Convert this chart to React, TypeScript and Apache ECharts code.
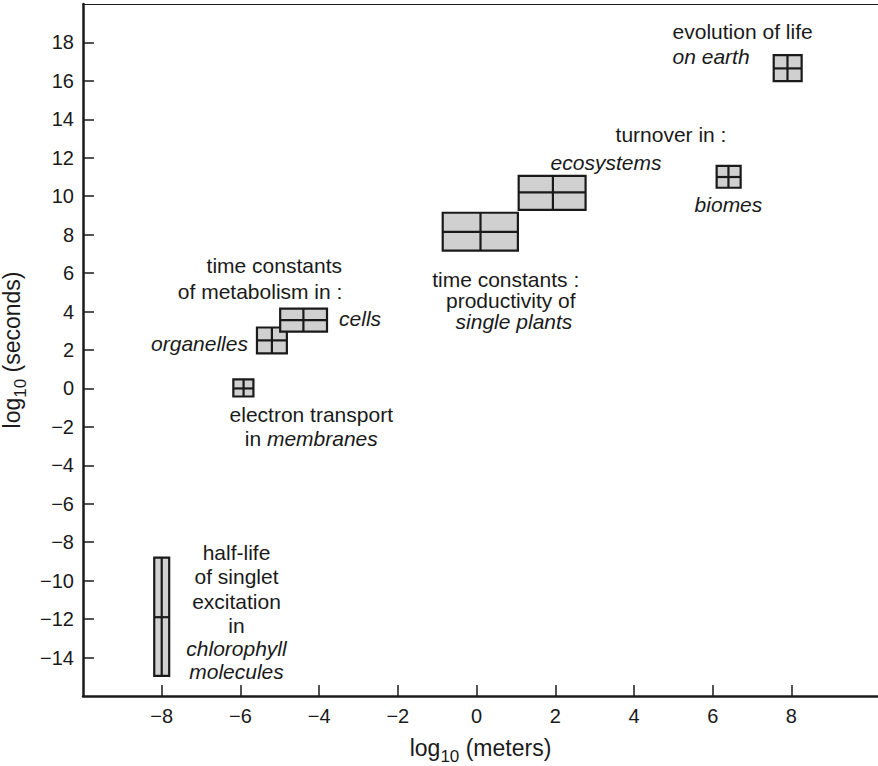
import React, { useEffect, useRef } from "react";
import * as echarts from "echarts";

// Boxes: extent in log10(meters) (x) and log10(seconds) (y), with crosshair centre
const boxNames = ["chlorophyll", "electron", "organelles", "cells", "plants", "ecosystems", "biomes", "earth"];
const boxXMin = [-8.19, -6.18, -5.58, -4.99, -0.86, 1.07, 6.1, 7.55];
const boxXMax = [-7.81, -5.67, -4.82, -3.8, 1.05, 2.77, 6.71, 8.26];
const boxYMin = [-14.95, -0.42, 1.82, 2.96, 7.17, 9.29, 10.44, 15.99];
const boxYMax = [-8.8, 0.47, 3.17, 4.15, 9.14, 11.06, 11.58, 17.34];
const boxXMid = [-8.0, -5.92, -5.2, -4.4, 0.1, 1.94, 6.4, 7.9];
const boxYMid = [-11.9, 0.0, 2.5, 3.55, 8.15, 10.2, 11.0, 16.65];

// Annotation lines (data coordinates)
const labelTexts = [
  "evolution of life", "on earth",
  "turnover in :", "ecosystems", "biomes",
  "time constants :", "productivity of", "single plants",
  "time constants", "of metabolism in :", "cells", "organelles",
  "electron transport", "{n|in }{i|membranes}",
  "half-life", "of singlet", "excitation", "in", "chlorophyll", "molecules",
];
const labelX = [
  4.98, 4.98,
  4.94, 3.29, 6.4,
  0.74, 0.87, 0.95,
  -5.14, -5.5, -2.96, -7.04,
  -4.2, -4.2,
  -6.1, -6.1, -6.1, -6.1, -6.1, -6.1,
];
const labelY = [
  18.55, 17.25,
  13.19, 11.78, 9.55,
  5.65, 4.55, 3.46,
  6.37, 5.02, 3.62, 2.32,
  -1.33, -2.63,
  -8.51, -9.76, -11.06, -12.31, -13.55, -14.7,
];
const labelItalic = [
  false, true,
  false, true, true,
  false, false, true,
  false, false, true, true,
  false, false,
  false, false, false, false, true, true,
];
const labelLeft = [true, true, false, false, false, false, false, false, false, false, false, false, false, false, false, false, false, false, false, false];

const xTicks = [-8, -6, -4, -2, 0, 2, 4, 6, 8];
const yTicks = [-14, -12, -10, -8, -6, -4, -2, 0, 2, 4, 6, 8, 10, 12, 14, 16, 18];

const FONT = "'Liberation Sans', Arial, Helvetica, sans-serif";
const INK = "#1a1a1a";

export default function App() {
  const ref = useRef<HTMLDivElement>(null);
  useEffect(() => {
    if (!ref.current) return;
    const chart = echarts.init(ref.current, null, { renderer: "svg" });
    const minus = (v: number) => String(v).replace("-", "\u2212");
    const boxData = boxNames.map((n, i) => [boxXMin[i], boxXMax[i], boxYMin[i], boxYMax[i], boxXMid[i], boxYMid[i]]);
    const labelData = labelTexts.map((t, i) => [labelX[i], labelY[i], i]);
    const nameRich = {
      a: { fontSize: 23, fontFamily: FONT, color: INK, verticalAlign: "bottom" },
      s: { fontSize: 17, fontFamily: FONT, color: INK, verticalAlign: "bottom", padding: [0, 0, -6, 0] },
    };
    chart.setOption({
      animation: false,
      backgroundColor: "#ffffff",
      grid: { left: 83, right: 0, top: 4, bottom: 70, containLabel: false, outerBoundsMode: "none" },
      xAxis: [
        {
          type: "value",
          min: -10,
          max: 10.2,
          interval: 2,
          position: "bottom",
          axisLine: { show: true, onZero: false, lineStyle: { color: INK, width: 2.5 } },
          axisTick: { show: true, inside: true, length: 11, customValues: xTicks, lineStyle: { color: INK, width: 1.5 } },
          axisLabel: { customValues: xTicks, formatter: minus, fontSize: 20, color: INK, fontFamily: FONT, margin: 10 },
          splitLine: { show: false },
          name: "{a|log}{s|10}{a| (meters)}",
          nameLocation: "middle",
          nameGap: 40,
          nameTextStyle: { rich: nameRich },
        },
        {
          type: "value",
          min: -10,
          max: 10.2,
          position: "top",
          axisLine: { show: true, onZero: false, lineStyle: { color: INK, width: 1 } },
          axisTick: { show: false },
          axisLabel: { show: false },
          splitLine: { show: false },
        },
      ],
      yAxis: {
        type: "value",
        min: -16,
        max: 20,
        interval: 2,
        axisLine: { show: true, onZero: false, lineStyle: { color: INK, width: 2.5 } },
        axisTick: { show: true, inside: true, length: 11, customValues: yTicks, lineStyle: { color: INK, width: 1.5 } },
        axisLabel: { customValues: yTicks, formatter: minus, fontSize: 20, color: INK, fontFamily: FONT, margin: 9 },
        splitLine: { show: false },
        name: "{a|log}{s|10}{a| (seconds)}",
        nameLocation: "middle",
        nameGap: 46,
        nameRotate: 90,
        nameTextStyle: { rich: nameRich },
      },
      series: [
        {
          type: "custom",
          name: "boxes",
          xAxisIndex: 0,
          yAxisIndex: 0,
          data: boxData,
          renderItem: (params: any, api: any) => {
            const tl = api.coord([api.value(0), api.value(3)]);
            const br = api.coord([api.value(1), api.value(2)]);
            const mid = api.coord([api.value(4), api.value(5)]);
            const stroke = { stroke: INK, lineWidth: 2.2 };
            return {
              type: "group",
              children: [
                { type: "rect", shape: { x: tl[0], y: tl[1], width: br[0] - tl[0], height: br[1] - tl[1] }, style: { fill: "#d0d0d0", ...stroke } },
                { type: "line", shape: { x1: mid[0], y1: tl[1], x2: mid[0], y2: br[1] }, style: stroke },
                { type: "line", shape: { x1: tl[0], y1: mid[1], x2: br[0], y2: mid[1] }, style: stroke },
              ],
            };
          },
          silent: true,
        },
        {
          type: "custom",
          name: "labels",
          xAxisIndex: 0,
          yAxisIndex: 0,
          data: labelData,
          renderItem: (params: any, api: any) => {
            const idx = api.value(2);
            const p = api.coord([api.value(0), api.value(1)]);
            return {
              type: "text",
              x: p[0],
              y: p[1],
              style: {
                text: labelTexts[idx],
                fontSize: 21,
                fontFamily: FONT,
                fontStyle: labelItalic[idx] ? "italic" : "normal",
                fill: INK,
                align: labelLeft[idx] ? "left" : "center",
                verticalAlign: "middle",
                rich: {
                  n: { fontSize: 21, fontFamily: FONT, fontStyle: "normal", color: INK },
                  i: { fontSize: 21, fontFamily: FONT, fontStyle: "italic", color: INK },
                },
              },
            };
          },
          silent: true,
        },
      ],
    });
    return () => chart.dispose();
  }, []);
  return <div ref={ref} style={{ position: "fixed", left: 0, top: 0, width: 878, height: 766 }} />;
}
